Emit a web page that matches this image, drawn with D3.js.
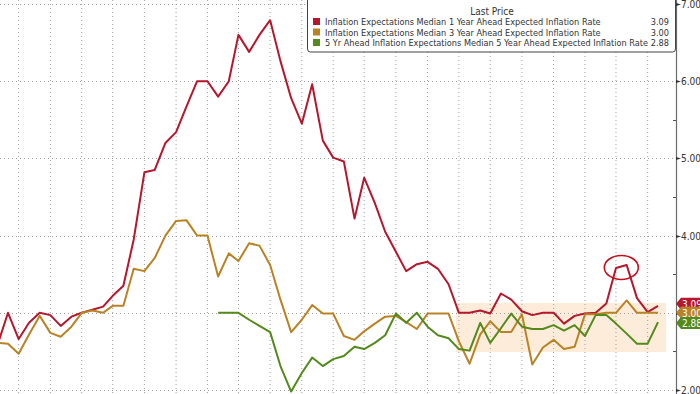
<!DOCTYPE html>
<html>
<head>
<meta charset="utf-8">
<script src="https://cdn.jsdelivr.net/npm/d3@7"></script>
<style>
  body { margin: 0; background: #fff; }
  svg { display: block; font-family: "DejaVu Sans Condensed", "DejaVu Sans", sans-serif; }
</style>
</head>
<body>
<div id="chart"></div>
<script>
// monthly survey readings, Apr 2020 .. Jul 2025
var startMonth = new Date(2020, 3, 1);
var oneYear = [2.59, 3.00, 2.66, 2.87, 3.00, 2.97, 2.83, 2.95, 3.00,
  3.04, 3.08, 3.22, 3.35, 3.95, 4.82, 4.85, 5.20, 5.34, 5.67, 6.00, 6.00,
  5.80, 6.00, 6.60, 6.38, 6.60, 6.79, 6.26, 5.78, 5.45, 5.96, 5.23, 5.01,
  4.96, 4.22, 4.75, 4.42, 4.05, 3.79, 3.54, 3.63, 3.66, 3.57, 3.37, 3.00,
  3.00, 3.03, 2.99, 3.25, 3.17, 3.02, 2.97, 3.00, 3.00, 2.86, 2.96, 2.99,
  3.00, 3.12, 3.58, 3.62, 3.19, 3.01, 3.09];
var threeYear = [2.61, 2.60, 2.47, 2.72, 2.96, 2.74, 2.69, 2.82, 3.00,
  3.03, 3.00, 3.09, 3.09, 3.57, 3.54, 3.71, 4.00, 4.19, 4.20, 4.00, 4.00,
  3.47, 3.77, 3.67, 3.90, 3.87, 3.62, 3.17, 2.75, 2.91, 3.10, 2.99, 2.99,
  2.70, 2.65, 2.76, 2.86, 2.95, 2.96, 2.88, 2.79, 2.99, 2.99, 2.99, 2.63,
  2.34, 2.72, 2.89, 2.75, 2.75, 2.98, 2.33, 2.55, 2.65, 2.53, 2.56, 2.98,
  2.98, 3.00, 3.00, 3.16, 3.00, 3.00, 3.00];
// 5 yr series only starts Jan 2022
var fiveYear = [null, null, null, null, null, null, null, null, null,
  null, null, null, null, null, null, null, null, null, null, null, null,
  3.00, 3.00, 3.00, 2.91, 2.83, 2.75, 2.31, 1.98, 2.22, 2.42, 2.31, 2.40,
  2.44, 2.56, 2.53, 2.61, 2.71, 2.99, 2.87, 3.00, 2.82, 2.71, 2.67, 2.53,
  2.51, 2.87, 2.61, 2.80, 2.99, 2.82, 2.79, 2.79, 2.84, 2.77, 2.84, 2.70,
  2.97, 2.97, 2.86, 2.73, 2.60, 2.60, 2.88];

var seriesNames = ["Inflation Expectations Median 1 Year Ahead Expected Inflation Rate",
  "Inflation Expectations Median 3 Year Ahead Expected Inflation Rate",
  "5 Yr Ahead Inflation Expectations Median 5 Year Ahead Expected Inflation Rate"];
var lastPrices = ["3.09", "3.00", "2.88"];
var colors = ["#b5172d", "#b98325", "#54891c"];
var yTicks = [2, 3, 4, 5, 6, 7];
var yMinor = [2.5, 3.5, 4.5, 5.5, 6.5];

var W = 700, H = 394, axisX = 676;

var months = oneYear.map(function(d, i) { return d3.timeMonth.offset(startMonth, i); });

var x = d3.scaleTime()
    .domain([new Date(2020, 4, 1), new Date(2025, 6, 1)])
    .range([8, 658]);
var y = d3.scaleLinear().domain([2, 7]).range([390, 4]);

var svg = d3.select("#chart").append("svg")
    .attr("width", W)
    .attr("height", H);

svg.append("defs").append("clipPath").attr("id", "plotclip")
  .append("rect").attr("x", 0).attr("y", 0).attr("width", axisX).attr("height", H);

// highlighted band near the 3% zone
svg.append("rect")
    .attr("x", 456).attr("y", 303)
    .attr("width", 666 - 456).attr("height", 352 - 303)
    .attr("fill", "#fbe6cc").attr("opacity", 0.75);

// grid
var gridMonths = d3.timeMonth.range(new Date(2020, 0, 1), new Date(2025, 8, 1))
    .filter(function(d) { return d.getMonth() % 3 == 2; });
svg.append("g").attr("class", "xgrid")
  .selectAll("line")
  .data(gridMonths)
  .enter().append("line")
    .attr("x1", function(d) { return x(d); })
    .attr("x2", function(d) { return x(d); })
    .attr("y1", 0).attr("y2", H)
    .attr("stroke", "#a0a0a0")
    .attr("stroke-width", 1)
    .attr("stroke-dasharray", "1,3");
svg.append("g").attr("class", "ygrid")
  .selectAll("line")
  .data(yTicks)
  .enter().append("line")
    .attr("x1", 0).attr("x2", axisX)
    .attr("y1", function(d) { return Math.round(y(d)) + 0.5; })
    .attr("y2", function(d) { return Math.round(y(d)) + 0.5; })
    .attr("stroke", "#a0a0a0")
    .attr("stroke-width", 1)
    .attr("stroke-dasharray", "1,3");

// lines
var allSeries = [oneYear, threeYear, fiveYear];
var line = d3.line()
    .defined(function(d) { return d != null; })
    .x(function(d, i) { return x(months[i]); })
    .y(function(d) { return y(d); });

var plot = svg.append("g").attr("clip-path", "url(#plotclip)");
plot.selectAll("path.series")
    .data(allSeries)
    .enter().append("path")
    .attr("class", "series")
    .attr("fill", "none")
    .attr("stroke", function(d, i) { return colors[i]; })
    .attr("stroke-width", 2)
    .attr("stroke-linejoin", "round")
    .attr("d", line);

// circle round the spring 2025 spike
svg.append("ellipse")
    .attr("cx", (x(months[59]) + x(months[60])) / 2)
    .attr("cy", y(3.60) + 1)
    .attr("rx", 17).attr("ry", 12)
    .attr("fill", "none")
    .attr("stroke", "#c4101c")
    .attr("stroke-width", 1.6);

// right axis
var yAxis = svg.append("g").attr("class", "yaxis");
yAxis.append("line")
    .attr("x1", axisX + 0.5).attr("x2", axisX + 0.5)
    .attr("y1", 0).attr("y2", H)
    .attr("stroke", "#6b6b6b").attr("stroke-width", 1.2);
yAxis.selectAll("path.major")
    .data(yTicks)
    .enter().append("path")
    .attr("class", "major")
    .attr("d", function(d) {
        var yy = Math.round(y(d)) + 0.5;
        return "M" + (axisX) + "," + (yy - 1.5) + "L" + (axisX + 5) + "," + yy + "L" + axisX + "," + (yy + 1.5) + "Z";
    })
    .attr("fill", "#333");
yAxis.selectAll("line.minor")
    .data(yMinor)
    .enter().append("line")
    .attr("class", "minor")
    .attr("x1", axisX - 3).attr("x2", axisX)
    .attr("y1", function(d) { return Math.round(y(d)) + 0.5; })
    .attr("y2", function(d) { return Math.round(y(d)) + 0.5; })
    .attr("stroke", "#555");
yAxis.selectAll("text")
    .data(yTicks)
    .enter().append("text")
    .attr("x", axisX + 5)
    .attr("y", function(d) { return y(d) + 4; })
    .attr("font-size", 10)
    .attr("fill", "#333")
    .text(function(d) { return d3.format(".2f")(d); });

// last price tags (drawn red, orange, green so green sits on top)
var tagY = [y(3.09) - 2, y(3.00), y(2.88) + 1];
var tags = svg.append("g").selectAll("g")
    .data(lastPrices)
    .enter().append("g")
    .attr("transform", function(d, i) { return "translate(" + axisX + "," + tagY[i] + ")"; });
tags.append("path")
    .attr("d", "M0,0 L5,-6 L26,-6 L26,6 L5,6 Z")
    .attr("fill", function(d, i) { return colors[i]; });
tags.append("text")
    .attr("x", 6).attr("y", 4)
    .attr("font-size", 10)
    .attr("fill", "#fff")
    .text(function(d) { return d; });

// legend
var lg = svg.append("g").attr("class", "legend");
lg.append("rect")
    .attr("x", 307.5).attr("y", -4)
    .attr("width", 368).attr("height", 56)
    .attr("rx", 3)
    .attr("fill", "#fff")
    .attr("stroke", "#444")
    .attr("stroke-width", 1);
lg.append("text")
    .attr("x", 492).attr("y", 15)
    .attr("text-anchor", "middle")
    .attr("font-size", 10)
    .attr("fill", "#333")
    .text("Last Price");
var rows = lg.selectAll("g.row")
    .data(seriesNames)
    .enter().append("g")
    .attr("class", "row")
    .attr("transform", function(d, i) { return "translate(0," + (22 + i * 10.5) + ")"; });
rows.append("rect")
    .attr("x", 313).attr("y", -4)
    .attr("width", 7).attr("height", 7)
    .attr("fill", function(d, i) { return colors[i]; });
rows.append("text")
    .attr("x", 325).attr("y", 3)
    .attr("font-size", 9.1)
    .attr("fill", "#333")
    .text(function(d) { return d; });
rows.append("text")
    .attr("x", 669).attr("y", 3)
    .attr("text-anchor", "end")
    .attr("font-size", 9.1)
    .attr("fill", "#333")
    .text(function(d, i) { return lastPrices[i]; });
</script>
</body>
</html>
